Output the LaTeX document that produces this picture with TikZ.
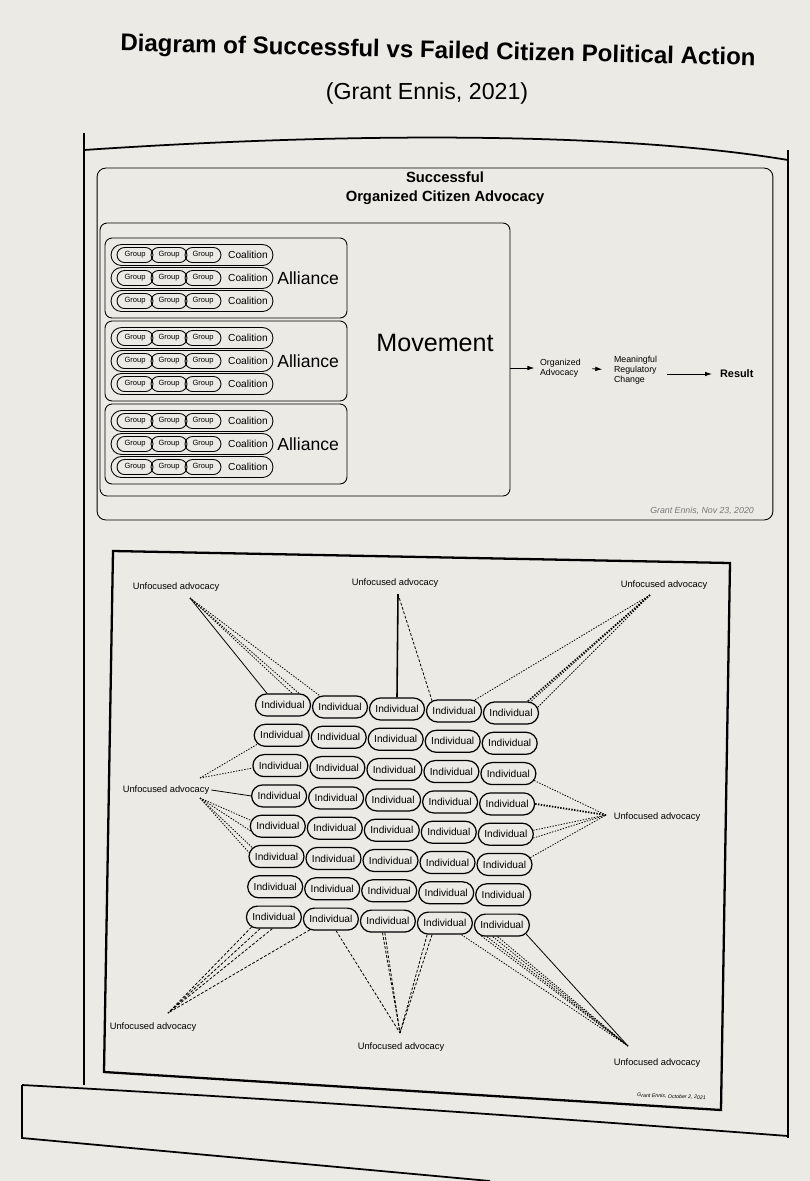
\documentclass[tikz,border=0pt]{standalone}
\usepackage{fontspec}
\setmainfont{Liberation Sans}
\usetikzlibrary{shapes.misc, positioning, arrows.meta, calc}
\definecolor{paper}{RGB}{236,234,228}
\definecolor{footgray}{RGB}{120,120,120}

\begin{document}
\begin{tikzpicture}[
x=0.02cm, y=-0.02cm,
    pill/.style={rounded rectangle, draw, line width=0.5pt, inner sep=0pt},
    group/.style={pill, minimum width=0.72cm, minimum height=0.3cm, font=\fontsize{4.3}{5}\selectfont},
    coalition/.style={pill, minimum width=3.24cm, minimum height=0.42cm},
    individual/.style={pill, line width=0.7pt, fill=paper, minimum width=1.1cm, minimum height=0.44cm, font=\fontsize{5.8}{7}\selectfont},
    box/.style={draw, rounded corners=4pt, line width=0.5pt, inner sep=0pt},
    unfocused/.style={font=\fontsize{5.3}{6}\selectfont, inner sep=1pt},
    small/.style={font=\fontsize{5}{5.6}\selectfont, align=left, inner sep=1pt},
    arrow/.style={draw, line width=0.5pt, -{Latex[length=4pt, width=2.6pt]}},
    link/.style={draw, line width=0.45pt},
    dotlink/.style={link, dash pattern=on 0.8pt off 0.8pt},
    dashlink/.style={link, dash pattern=on 1.6pt off 1pt},
    frame/.style={draw, line width=1pt}
]

    % Page
    \fill[paper] (0,0) rectangle (810,1181);
    \useasboundingbox (0,0) rectangle (810,1181);

    % Title
    \node[font=\bfseries\fontsize{13.7}{16}\selectfont, rotate=-1.3] (title) at (438,52) {Diagram of Successful vs Failed Citizen Political Action};
    \node[font=\fontsize{13.2}{16}\selectfont] (subtitle) at (427,93) {(Grant Ennis, 2021)};

    % Frame of the page
    \draw[frame] (84,133) -- (84,1085);
    \draw[frame] (84,150) .. controls (350,132) and (620,132) .. (788,160);
    \draw[frame] (788,150) -- (788,1138);
    \draw[frame] (22,1085) .. controls (300,1100) and (550,1118) .. (788,1136);
    \draw[frame] (22,1085) -- (22,1138) -- (490,1181);

    % Successful advocacy
    \node[box, rounded corners=5pt, minimum width=13.52cm, minimum height=7.04cm] (toppanel) at (435,344) {};
    \node[font=\bfseries\fontsize{8.4}{10.8}\selectfont, align=center] (toptitle) at (445,188) {Successful\\Organized Citizen Advocacy};
    \node[box, minimum width=8.2cm, minimum height=5.46cm] (movebox) at (305,359.5) {};
    \node[font=\fontsize{14.3}{16}\selectfont, inner sep=0pt] (movement) at (435,343) {Movement};

    \foreach \a/\ay in {1/278, 2/361, 3/444} {
        \node[box, minimum width=4.84cm, minimum height=1.6cm] (alli\a) at (226,\ay) {};
        \node[font=\fontsize{10}{12}\selectfont, anchor=west, inner sep=0pt] (alliname\a) at (277,\ay) {Alliance};
        \foreach \r/\dy in {1/-23, 2/0, 3/23} {
            \node[coalition] (coal\a\r) at (192,{\ay+\dy}) {};
            \foreach \k/\gx in {1/135, 2/169, 3/203}
                \node[group] (grp\a\r\k) at (\gx,{\ay+\dy}) {Group};
            \node[font=\fontsize{5.8}{7}\selectfont, inner sep=0pt] (coalname\a\r) at (248,{\ay+\dy}) {Coalition};
        }
    }

    % Chain to the result
    \node[small, anchor=west] (orgadv) at (538,368) {Organized\\Advocacy};
    \node[small, anchor=west] (change) at (612,370) {Meaningful\\Regulatory\\Change};
    \node[font=\bfseries\fontsize{6.2}{7}\selectfont, anchor=west, inner sep=1pt] (result) at (718,374) {Result};

    \draw[arrow, shorten >=2pt] (movebox.east |- orgadv.west) -- (orgadv.west);
    \draw[arrow, shorten <=5.5pt, shorten >=5.5pt] (orgadv.east) -- (change.west);
    \draw[arrow, shorten <=4.5pt, shorten >=3.4pt] (change.east |- result.west) -- (result.west);

    \node[font=\itshape\fontsize{5}{6}\selectfont, text=footgray, anchor=east] (topfoot) at (760,511) {Grant Ennis, Nov 23, 2020};

    % Unfocused advocacy
    \draw[line width=1.3pt] (113,551) -- (730,563) -- (721,1110) -- (104,1072) -- cycle;

    \foreach \r in {1,...,8}
        \foreach \c in {1,...,5}
            \node[individual] (ind\r\c) at ({283+57*(\c-1)-1.3*(\r-1)},{705+30.3*(\r-1)+2*(\c-1)}) {Individual};

    \node[unfocused] (uTL) at (176,587) {Unfocused advocacy};
    \node[unfocused] (uTC) at (395,583) {Unfocused advocacy};
    \node[unfocused] (uTR) at (664,585) {Unfocused advocacy};
    \node[unfocused] (uL) at (166,790) {Unfocused advocacy};
    \node[unfocused] (uR) at (657,817) {Unfocused advocacy};
    \node[unfocused] (uBL) at (153,1027) {Unfocused advocacy};
    \node[unfocused] (uBC) at (401,1047) {Unfocused advocacy};
    \node[unfocused] (uBR) at (657,1063) {Unfocused advocacy};

    \coordinate (pTL) at (190,598);
    \coordinate (pTC) at (398,594);
    \coordinate (pTR) at (650,595);
    \coordinate (pLup) at (200,778);
    \coordinate (pLdown) at (200,798);
    \coordinate (pR) at (606,815);
    \coordinate (pBL) at (168,1013);
    \coordinate (pBC) at (400,1033);
    \coordinate (pBR) at (628,1046);

    % Edges - top
    \draw[link] (pTL) -- (ind11.144);
    \draw[dotlink] (pTL) -- (ind11.51);
    \draw[dotlink] (pTL) -- (ind11.36);
    \draw[dotlink] (pTL) -- (ind12.151);

    \draw[link, line width=0.9pt] (pTC) -- (ind13.north);
    \draw[dashlink] (pTC) -- (ind14.155);

    \draw[dotlink] (pTR) -- (ind14.28);
    \draw[dotlink, line width=0.9pt] (pTR) -- (ind15.35);
    \draw[dotlink] (pTR) -- (ind15.30);
    \draw[dotlink] (pTR) -- (ind15.12);

    % Edges - sides
    \draw[link] (uL.east) -- (ind41.west);
    \draw[dotlink] (pLup) -- (ind21.200);
    \draw[dotlink] (pLup) -- (ind31.185);
    \draw[dotlink] (pLdown) -- (ind51.168);
    \draw[dotlink] (pLdown) -- (ind51.190);
    \draw[dotlink] (pLdown) -- (ind61.160);
    \draw[dotlink] (pLdown) -- (ind61.172);

    \draw[dotlink] (ind35.345) -- (pR);
    \draw[dotlink, line width=1pt] (ind45.east) -- (pR);
    \draw[dotlink] (ind55.8) -- (pR);
    \draw[dotlink] (ind55.352) -- (pR);
    \draw[dotlink] (ind65.15) -- (pR);

    % Edges - bottom
    \draw[dashlink] (ind81.204) -- (pBL);
    \draw[dashlink] (ind81.220) -- (pBL);
    \draw[dashlink] (ind81.262) -- (pBL);
    \draw[dashlink] (ind82.207) -- (pBL);

    \draw[dashlink] (ind82.294) -- (pBC);
    \draw[dashlink] (ind83.245) -- (pBC);
    \draw[dashlink] (ind83.255) -- (pBC);
    \draw[dashlink] (ind84.213) -- (pBC);
    \draw[dashlink] (ind84.222) -- (pBC);

    \draw[dotlink] (ind84.325) -- (pBR);
    \draw[dotlink] (ind85.208) -- (pBR);
    \draw[dotlink] (ind85.218) -- (pBR);
    \draw[dotlink] (ind85.232) -- (pBR);
    \draw[dotlink] (ind85.250) -- (pBR);
    \draw[link] (ind85.340) -- (pBR);

    \node[font=\itshape\fontsize{3}{4}\selectfont, anchor=east, rotate=-2] (botfoot) at (712,1098) {Grant Ennis, October 2, 2021};

\end{tikzpicture}
\end{document}
